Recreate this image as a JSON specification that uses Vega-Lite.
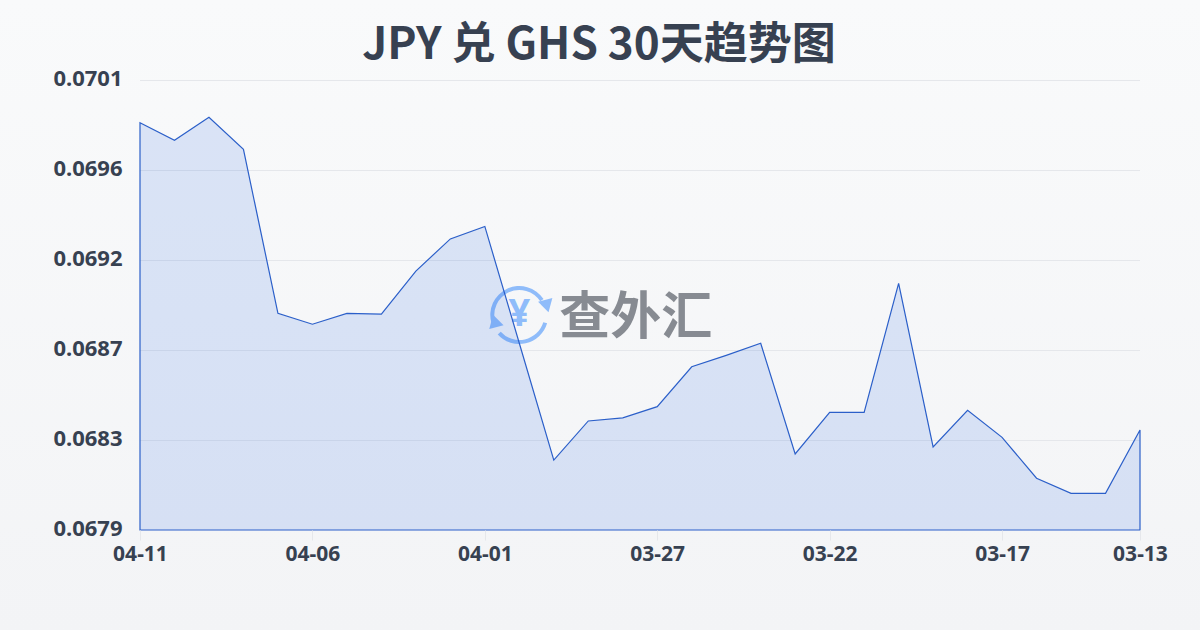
{"$schema":"https://vega.github.io/schema/vega-lite/v6.json","width":1000,"height":450,"autosize":{"type":"none"},"padding":{"left":140,"top":80,"right":60,"bottom":100},"background":"#f6f7f9","title":{"text":"JPY 兑 GHS 30天趋势图","font":"Noto Sans CJK SC","fontSize":44,"fontWeight":"bold","color":"#374151","anchor":"middle","dx":-41,"offset":-68},"config":{"view":{"stroke":null},"font":"Noto Sans"},"data":{"values":[{"date":"2025-04-11","rate":0.069851},{"date":"2025-04-10","rate":0.069765},{"date":"2025-04-09","rate":0.069878},{"date":"2025-04-08","rate":0.069721},{"date":"2025-04-07","rate":0.068919},{"date":"2025-04-06","rate":0.068866},{"date":"2025-04-05","rate":0.068919},{"date":"2025-04-04","rate":0.068915},{"date":"2025-04-03","rate":0.069126},{"date":"2025-04-02","rate":0.069283},{"date":"2025-04-01","rate":0.069344},{"date":"2025-03-31","rate":0.068773},{"date":"2025-03-30","rate":0.068202},{"date":"2025-03-29","rate":0.068393},{"date":"2025-03-28","rate":0.068408},{"date":"2025-03-27","rate":0.068463},{"date":"2025-03-26","rate":0.068658},{"date":"2025-03-25","rate":0.068714},{"date":"2025-03-24","rate":0.068773},{"date":"2025-03-23","rate":0.068232},{"date":"2025-03-22","rate":0.068435},{"date":"2025-03-21","rate":0.068435},{"date":"2025-03-20","rate":0.069066},{"date":"2025-03-19","rate":0.068266},{"date":"2025-03-18","rate":0.068445},{"date":"2025-03-17","rate":0.068313},{"date":"2025-03-16","rate":0.068113},{"date":"2025-03-15","rate":0.068039},{"date":"2025-03-14","rate":0.068039},{"date":"2025-03-13","rate":0.068349}]},"encoding":{"x":{"field":"date","type":"temporal","scale":{"type":"utc","domain":["2025-03-13","2025-04-11"],"reverse":true,"nice":false},"axis":{"title":null,"zindex":1,"values":["2025-04-11","2025-04-06","2025-04-01","2025-03-27","2025-03-22","2025-03-17","2025-03-13"],"labelExpr":"utcFormat(datum.value, '%m-%d')","labelAngle":0,"labelFontSize":21,"labelFontWeight":"bold","labelColor":"#374151","labelFont":"Noto Sans","labelPadding":3,"tickColor":"#e5e7eb","tickSize":10,"tickWidth":1,"domain":false,"grid":false,"labelOverlap":false,"labelFlush":false}},"y":{"field":"rate","type":"quantitative","scale":{"domain":[0.06786,0.07006],"zero":false,"nice":false},"axis":{"title":null,"zindex":1,"values":[0.06786,0.0683,0.06874,0.06918,0.06962,0.07006],"format":".4f","labelFontSize":22,"labelFontWeight":"bold","labelColor":"#374151","labelFont":"Noto Sans","labelPadding":18,"labelOffset":-1.5,"ticks":false,"domain":false,"grid":false}}},"layer":[{"mark":{"type":"rect","clip":false,"fill":{"gradient":"linear","x1":0,"y1":0,"x2":0,"y2":1,"stops":[{"offset":0,"color":"#f9fafb"},{"offset":1,"color":"#f3f4f6"}]}},"data":{"values":[{"panel":"page","left":"2025-04-15T02:00:00Z","right":"2025-03-11T06:00:00Z","top":0.070451,"bottom":0.067371}]},"encoding":{"x":{"field":"left","type":"temporal"},"x2":{"field":"right"},"y":{"field":"top","type":"quantitative"},"y2":{"field":"bottom"}}},{"mark":{"type":"rule","color":"#e5e7eb","strokeWidth":1,"yOffset":0.5},"data":{"values":[{"grid":0.0683,"from":"2025-04-11","to":"2025-03-13"},{"grid":0.06874,"from":"2025-04-11","to":"2025-03-13"},{"grid":0.06918,"from":"2025-04-11","to":"2025-03-13"},{"grid":0.06962,"from":"2025-04-11","to":"2025-03-13"},{"grid":0.07006,"from":"2025-04-11","to":"2025-03-13"}]},"encoding":{"x":{"field":"from","type":"temporal"},"x2":{"field":"to"},"y":{"field":"grid","type":"quantitative"}}},{"mark":{"type":"arc","radius":29,"radius2":25,"theta":-1.86,"theta2":0.99,"color":"#8fbcfa"},"data":{"values":[{"date":"2025-03-31","rate":0.068911}]}},{"mark":{"type":"arc","radius":29,"radius2":25,"theta":1.86,"theta2":3.98,"color":"#8fbcfa"},"data":{"values":[{"date":"2025-03-31","rate":0.068911}]}},{"mark":{"type":"point","shape":"triangle","filled":true,"size":220,"opacity":1,"color":"#8fbcfa","angle":165,"xOffset":27,"yOffset":-11},"data":{"values":[{"date":"2025-03-31","rate":0.068911}]}},{"mark":{"type":"point","shape":"triangle","filled":true,"size":220,"opacity":1,"color":"#8fbcfa","angle":-15,"xOffset":-24,"yOffset":8},"data":{"values":[{"date":"2025-03-31","rate":0.068911}]}},{"mark":{"type":"text","text":"¥","font":"Noto Sans","fontSize":38,"fontWeight":"bold","color":"#8fbcfa","align":"center","baseline":"middle"},"data":{"values":[{"date":"2025-03-31","rate":0.068911}]}},{"mark":{"type":"text","text":"查外汇","font":"Noto Sans CJK SC","fontSize":51,"fontWeight":"bold","color":"#878b92","align":"center","baseline":"middle","dx":13},"data":{"values":[{"date":"2025-03-28","rate":0.06889}]}},{"mark":{"type":"area","fill":"#2563e0","fillOpacity":0.14,"stroke":"#2b5fc9","strokeWidth":1.2},"encoding":{"y":{"field":"rate","type":"quantitative","stack":null}}}]}
